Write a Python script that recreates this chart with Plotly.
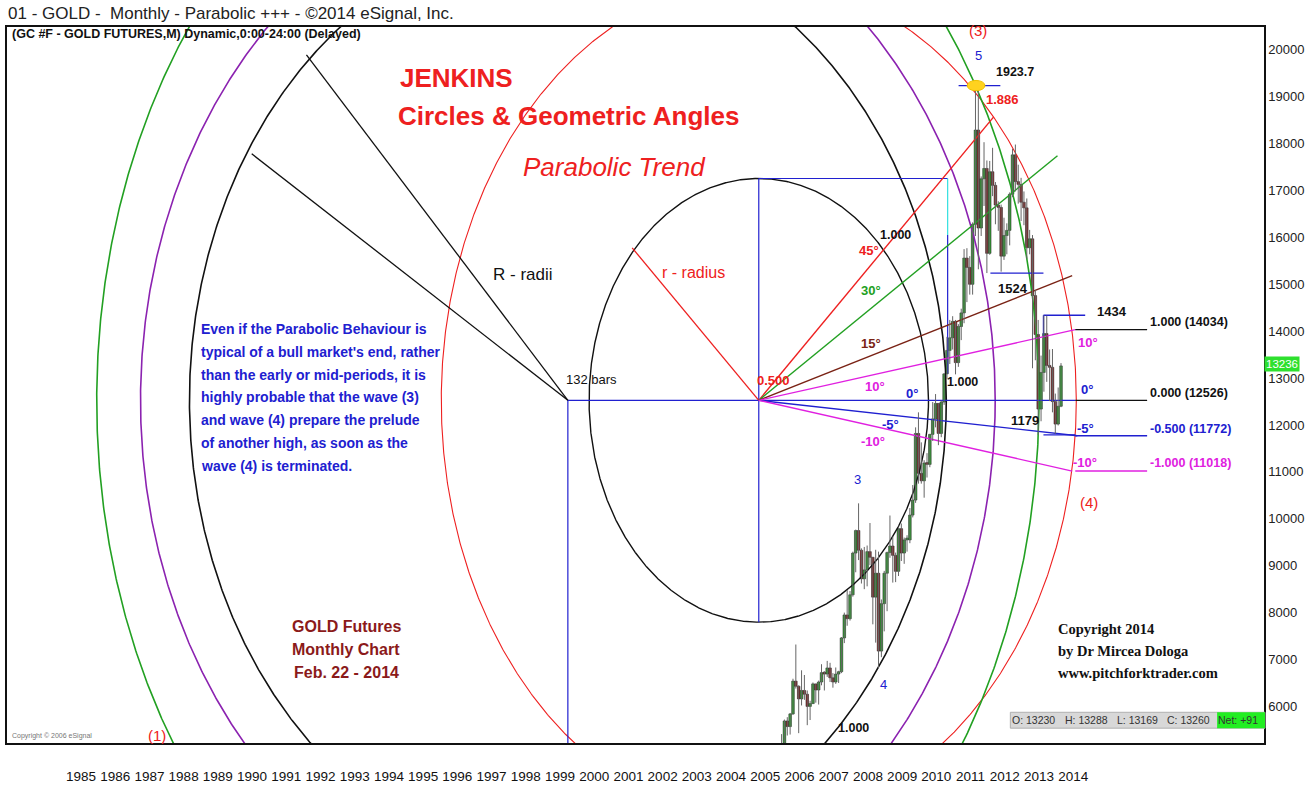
import numpy as np
import pandas as pd
import plotly.graph_objects as go

# ---------------- DATA (GC #F monthly, price x10) ----------------
start_month = "2005-10"
opens = [4730, 4700, 4950,
         5180, 5690, 5570, 5840, 6540, 6430, 6160, 6340, 6260, 6000, 6060, 6480,
         6350, 6520, 6720, 6690, 6820, 6610, 6520, 6690, 6740, 7460, 7950, 7870,
         8380, 9270, 9750, 9330, 8720, 8910, 9300, 9180, 8330, 8840, 7180, 8190,
         8840, 9280, 9420, 9220, 8880, 9790, 9270, 9550, 9550, 10080, 10400, 11820,
         10970, 10810, 11190, 11160, 11800, 12130, 12460, 11820, 12490, 13090, 13590, 13860,
         14210, 13330, 14100, 14390, 15560, 15360, 15000, 16280, 18290, 16200, 17250, 17470,
         15660, 17400, 17110, 16690, 16640, 15600, 16040, 16150, 16920, 17760, 17190, 17130,
         16750, 16630, 15780, 15970, 14760, 13930, 12340, 13120, 13950, 13270, 13230, 12500,
         12020, 12400]
highs = [4800, 4970, 5410,
         5720, 5770, 5860, 6590, 7320, 6450, 6770, 6670, 6340, 6120, 6510, 6480,
         6550, 6900, 6750, 6970, 6930, 6710, 6830, 6760, 7480, 8000, 8480, 8460,
         9300, 9770, 10330, 9370, 9400, 9430, 9910, 9180, 9340, 9300, 8280, 8890,
         9300, 10070, 9620, 9280, 9830, 9900, 9600, 9650, 10230, 10720, 11950, 12270,
         11630, 11250, 11400, 11810, 12490, 12660, 12460, 12520, 13100, 13880, 14240, 14320,
         14240, 14150, 14480, 15750, 15770, 15600, 16320, 19170, 19237, 17300, 18030, 17640,
         17630, 17910, 17180, 16770, 16700, 16420, 16300, 16960, 17890, 17980, 17550, 17270,
         16980, 16830, 16160, 16050, 14880, 14240, 13480, 14340, 14330, 13610, 13620, 12670,
         12800, 13320]
lows = [4570, 4560, 4920,
        5160, 5380, 5400, 5820, 6380, 5430, 6020, 6140, 5600, 5710, 6060, 6080,
        6040, 6450, 6340, 6630, 6520, 6400, 6480, 6500, 6710, 7350, 7720, 7830,
        8340, 8860, 9120, 8620, 8500, 8560, 9010, 7750, 7360, 6810, 7050, 7600,
        8030, 9170, 8640, 8650, 8780, 9100, 9040, 9300, 9480, 10030, 10340, 10750,
        10750, 10450, 10880, 11100, 11660, 11950, 11570, 11740, 12430, 12980, 13300, 13610,
        13080, 13240, 13810, 14170, 14620, 14780, 14780, 16030, 15320, 16030, 16670, 15240,
        15630, 16880, 16280, 16140, 15270, 15520, 15640, 15830, 16860, 16980, 16720, 16350,
        16260, 15540, 15640, 13210, 13380, 11790, 12080, 12710, 12920, 12510, 12270, 11810,
        11990, 12380]
closes = [4700, 4950, 5180,
          5690, 5570, 5840, 6540, 6430, 6160, 6340, 6260, 6000, 6060, 6480, 6350,
          6520, 6720, 6690, 6820, 6610, 6520, 6690, 6740, 7460, 7950, 7870, 8380,
          9270, 9750, 9330, 8720, 8910, 9300, 9180, 8330, 8840, 7180, 8190, 8840,
          9280, 9420, 9220, 8880, 9790, 9270, 9550, 9550, 10080, 10400, 11820, 10970,
          10810, 11190, 11160, 11800, 12130, 12460, 11820, 12490, 13090, 13590, 13860, 14210,
          13330, 14100, 14390, 15560, 15360, 15000, 16280, 18290, 16200, 17250, 17470, 15660,
          17400, 17110, 16690, 16640, 15600, 16040, 16150, 16920, 17760, 17190, 17130, 16750,
          16630, 15780, 15970, 14760, 13930, 12340, 13120, 13950, 13270, 13230, 12500, 12020,
          12400, 13260]

years = list(range(1985, 2015))
year_labels = [str(y) for y in years]
price_ticks = list(range(6000, 20001, 1000))
last_price = 13236
ohlc_box = ["O: 13230", "H: 13288", "L: 13169", "C: 13260", "Net: +91"]

# Geometry of the Jenkins construction (time in years, price x10)
anchor_t, anchor_p = 1999.67, 12526          # "132 bars" origin
mid_t, mid_p = 2005.25, 12526                # 0.500 point
r_small = (4.96, 4730)                       # r - radius circle
r_red = (9.28, 8974)                         # red circle around 0.500
R_circles = [(11.06, 9966, "#111111"), (12.49, 11191, "#8b22b0"), (13.77, 13387, "#22a022")]
fan = [
    (2012.11, 18564, "#ee2020"),
    (2013.98, 17741, "#22a022"),
    (2014.41, 15186, "#7a2315"),
    (2014.50, 14034, "#e020e0"),
    (2014.56, 11772, "#2020d0"),
    (2014.41, 11018, "#e020e0"),
]
levels = [(14034, "1.000 (14034)", "#111111"),
          (12526, "0.000 (12526)", "#111111"),
          (11772, "-0.500 (11772)", "#2020d0"),
          (11018, "-1.000 (11018)", "#e020e0")]
level_t0, level_t1 = 2014.50, 2016.60
peak_p, low1524, high1434, low1179 = 19237, 15240, 14340, 11790
R_radii_ends = [(1992.03, 19894), (1990.43, 17783)]
r_radius_end = (2001.55, 15777)

# ---------------- FIGURE ----------------
t = pd.period_range(start_month, periods=len(closes), freq="M")
tx = [p.year + (p.month - 1) / 12 for p in t]

fig = go.Figure()

def line(xs, ys, color, width=1.3):
    fig.add_trace(go.Scatter(x=xs, y=ys, mode="lines", line=dict(color=color, width=width),
                             hoverinfo="skip", showlegend=False))

def ellipse(cx, cy, rx, ry, color, width=1.3):
    th = np.linspace(0, 2 * np.pi, 1441)
    line(cx + rx * np.cos(th), cy + ry * np.sin(th), color, width)

# circles
ellipse(mid_t, mid_p, r_small[0], r_small[1], "#111111", 1.4)
ellipse(mid_t, mid_p, r_red[0], r_red[1], "#ee2020", 1.1)
for rx, ry, c in R_circles:
    ellipse(anchor_t, anchor_p, rx, ry, c, 1.6)

# blue frame lines
line([mid_t, mid_t], [mid_p - r_small[1], mid_p + r_small[1]], "#2020d0", 1.2)
line([mid_t, 2010.77], [mid_p + r_small[1]] * 2, "#2020d0", 1.2)
line([2010.77, 2010.77], [mid_p + r_small[1], 16050], "#33e0e0", 1.2)
line([2010.77, 2010.77], [16050, 13100], "#2020d0", 1.2)
line([anchor_t, anchor_t], [anchor_p, 4000], "#2020d0", 1.2)
line([anchor_t, level_t0], [anchor_p, anchor_p], "#2020d0", 1.4)

# R radii and r radius
for et, ep in R_radii_ends:
    line([anchor_t, et], [anchor_p, ep], "#111111", 1.3)
line([mid_t, r_radius_end[0]], [mid_p, r_radius_end[1]], "#ee2020", 1.3)

# fan
for et, ep, c in fan:
    line([mid_t, et], [mid_p, ep], c, 1.4)

# level lines
for p, lab, c in levels:
    line([level_t0, level_t1], [p, p], c, 1.4)

# swing markers
line([2011.09, 2012.31], [peak_p, peak_p], "#2020d0", 1.3)
line([2012.02, 2013.57], [low1524, low1524], "#2020d0", 1.3)
line([2013.57, 2014.79], [high1434, high1434], "#2020d0", 1.3)
line([2013.57, 2013.57], [high1434, 13900], "#2020d0", 1.3)
line([2013.57, 2014.50], [low1179, low1179], "#2020d0", 1.3)

# candles: wicks + bodies
wx, wy = [], []
for x, h, l in zip(tx, highs, lows):
    wx += [x, x, None]
    wy += [l, h, None]
fig.add_trace(go.Scatter(x=wx, y=wy, mode="lines", line=dict(color="#666666", width=1),
                         hoverinfo="skip", showlegend=False))
body_base = [min(o, c) for o, c in zip(opens, closes)]
body_h = [max(abs(c - o), 40) for o, c in zip(opens, closes)]
body_col = ["#1fb01f" if c >= o else "#8e1a1a" for o, c in zip(opens, closes)]
fig.add_trace(go.Bar(x=tx, y=body_h, base=body_base, width=0.075,
                     marker=dict(color=body_col, line=dict(color="#2a2a2a", width=0.6)),
                     hoverinfo="skip", showlegend=False))

# yellow peak marker
fig.add_shape(type="circle", xref="x", yref="y", x0=2011.34, x1=2011.86,
              y0=peak_p - 110, y1=peak_p + 110, fillcolor="#ffd21f", line=dict(color="#f0c000", width=1))

FONT = "Liberation Sans, Arial"

def txt(x, y, s, color="#111111", size=14, weight="bold", style="normal", xanchor="center",
        family=FONT, xref="x", yref="y", yanchor="middle"):
    fig.add_annotation(x=x, y=y, text=s, showarrow=False, xref=xref, yref=yref,
                       xanchor=xanchor, yanchor=yanchor,
                       font=dict(color=color, size=size, family=family, weight=weight, style=style))

RED, BLUE, MAG = "#ee2020", "#2020d0", "#e020e0"
txt(1996.41, 19409, "JENKINS", RED, 26)
txt(1999.71, 18585, "Circles &amp; Geometric Angles", RED, 26)
txt(2001.02, 17508, "Parabolic Trend", RED, 26, weight="normal", style="italic")
txt(1998.36, 15207, "R - radii", "#111111", 17, weight="normal")
txt(2003.33, 15249, "r - radius", RED, 16, weight="normal")
txt(2000.35, 12969, "132 bars", "#111111", 13, weight="normal")
txt(2005.69, 12948, "0.500", RED, 13)
txt(2009.25, 16052, "1.000", "#111111", 12.5)
txt(2011.20, 12926, "1.000", "#111111", 12.5)
txt(2008.02, 5536, "1.000", "#111111", 12.5)
txt(2008.46, 15714, "45°", RED, 13)
txt(2008.52, 14869, "30°", "#22a022", 13)
txt(2008.52, 13729, "15°", "#7a2315", 13)
txt(2008.66, 12821, "10°", MAG, 13)
txt(2009.74, 12673, "0°", BLUE, 13)
txt(2009.10, 12018, "-5°", BLUE, 13)
txt(2008.58, 11638, "-10°", MAG, 13)
txt(2014.88, 13750, "10°", MAG, 13)
txt(2014.85, 12757, "0°", BLUE, 13)
txt(2014.79, 11934, "-5°", BLUE, 13)
txt(2014.79, 11195, "-10°", MAG, 13)
txt(2014.91, 10350, "(4)", RED, 15, weight="normal")
txt(2011.67, 20420, "(3)", RED, 15, weight="normal")
txt(1987.66, 5389, "(1)", RED, 15, weight="normal")
txt(2011.67, 19873, "5", BLUE, 13, weight="normal")
txt(2012.75, 19535, "1923.7", "#111111", 12.5)
txt(2012.37, 18944, "1.886", RED, 13)
txt(2008.14, 10836, "3", BLUE, 13, weight="normal")
txt(2008.90, 6465, "4", BLUE, 13, weight="normal")
txt(2012.69, 14911, "1524", "#111111", 13)
txt(2015.58, 14425, "1434", "#111111", 13)
txt(2013.04, 12103, "1179", "#111111", 13)
for (p, lab, c), ty in zip(levels, [14193, 12673, 11913, 11195]):
    txt(2016.63, ty, lab, c, 12.5, xanchor="left")

blue_lines = ["Even if the Parabolic Behaviour is",
              "typical of a bull market's end, rather",
              "than the early or mid-periods, it is",
              "highly probable that the wave (3)",
              "and wave (4) prepare the prelude",
              "of another high, as soon as the",
              "wave (4) is terminated."]
for s, ty in zip(blue_lines, [14046, 13560, 13074, 12589, 12103, 11617, 11131]):
    txt(1988.88, ty, s, BLUE, 14, xanchor="left")

for s, ty in zip(["GOLD Futures", "Monthly Chart", "Feb. 22 - 2014"], [7711, 7204, 6719]):
    txt(1993.20, ty, s, "#8b1a1a", 16)
for s, ty in zip(["Copyright 2014", "by Dr Mircea Dologa", "www.pitchforktrader.com"], [7647, 7183, 6719]):
    txt(2013.95, ty, s, "#111111", 14.5, xanchor="left", family="Liberation Serif, Times New Roman")

# paper-level texts
txt(-0.001, 1.019, "01 - GOLD -  Monthly - Parabolic +++ - ©2014 eSignal, Inc.", "#222222", 17,
    weight="normal", xanchor="left", xref="paper", yref="paper")
txt(0.002, 0.990, "(GC #F - GOLD FUTURES,M) Dynamic,0:00-24:00 (Delayed)", "#111111", 12.5,
    xanchor="left", xref="paper", yref="paper")
txt(0.002, 0.010, "Copyright © 2006 eSignal", "#777777", 7, weight="normal",
    xanchor="left", xref="paper", yref="paper")

# OHLC box
fig.add_shape(type="rect", xref="paper", yref="paper", x0=0.7982, x1=1.0008, y0=0.0207, y1=0.0429,
              fillcolor="#d8d8d8", line=dict(color="#b0b0b0", width=1))
fig.add_shape(type="rect", xref="paper", yref="paper", x0=0.9627, x1=1.0008, y0=0.0207, y1=0.0429,
              fillcolor="#22ee22", line=dict(width=0))
for s, cx in zip(ohlc_box, [1033, 1086, 1137, 1188, 1238]):
    txt((cx - 5) / 1259, 0.0318, s, "#333333", 10.5, weight="normal", xref="paper", yref="paper")

# last price tag on axis
fig.add_annotation(x=1.0, y=last_price + 60, xref="paper", yref="y", text=str(last_price), showarrow=False,
                   xanchor="left", yanchor="middle", bgcolor="#2ee02e", borderpad=1,
                   font=dict(color="white", size=11.5, family=FONT))

fig.update_layout(
    width=1313, height=789, margin=dict(l=5, r=49, t=27, b=39),
    paper_bgcolor="white", plot_bgcolor="white", showlegend=False, barmode="overlay",
    xaxis=dict(range=[1983.278, 2020.016], tickvals=[y + 0.44 for y in years], ticktext=year_labels,
               ticks="outside", ticklen=20, tickcolor="rgba(0,0,0,0)", showgrid=False, zeroline=False,
               showline=True, linecolor="#111111", linewidth=1.5, mirror=True,
               tickfont=dict(size=13.5, color="#111111", family=FONT), fixedrange=True),
    yaxis=dict(range=[5220, 20486], side="right", tickvals=price_ticks, ticktext=[str(v) for v in price_ticks],
               ticks="", showgrid=False, zeroline=False, showline=True, linecolor="#111111", linewidth=1.5,
               mirror=True, tickfont=dict(size=13, color="#222222", family=FONT), fixedrange=True),
)

fig.write_html("out.html", config={"displayModeBar": False},
               post_script="document.body.style.margin='0px';")
